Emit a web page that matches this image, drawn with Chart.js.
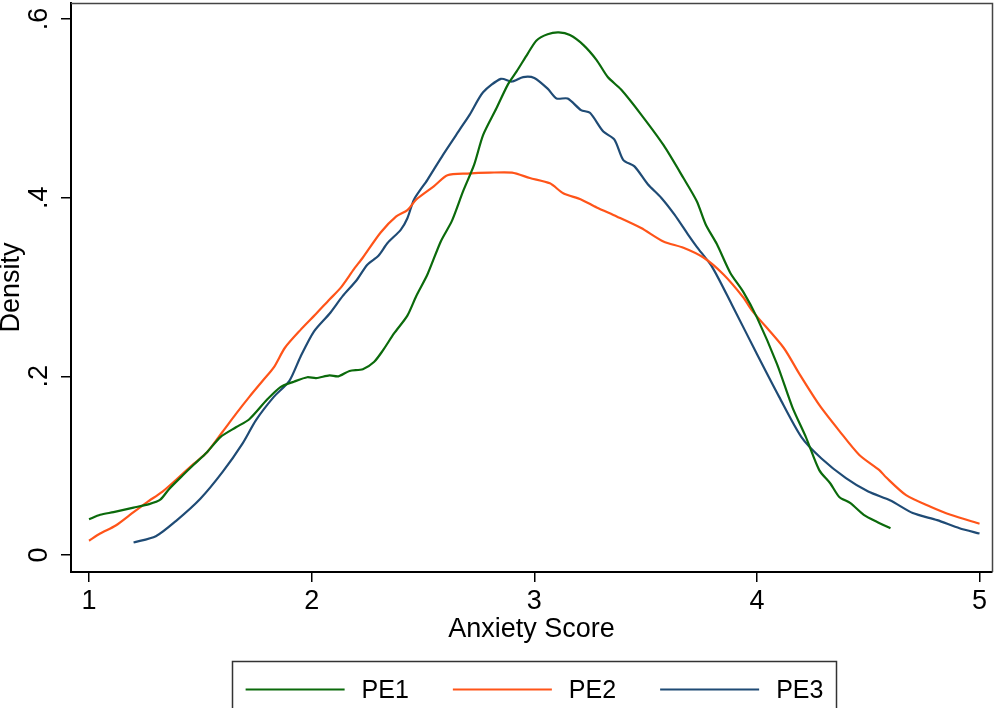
<!DOCTYPE html>
<html>
<head>
<meta charset="utf-8">
<script src="https://cdn.jsdelivr.net/npm/chart.js@4"></script>
<style>
  html, body { margin: 0; padding: 0; background: #ffffff; }
  #wrap { position: relative; width: 995px; height: 708px; }
</style>
</head>
<body>
<div id="wrap"><canvas id="c"></canvas></div>
<script>
// ---- data ----
const seriesLabels = ['PE1', 'PE2', 'PE3'];

const pe1X = [1.00,1.05,1.11,1.20,1.27,1.32,1.36,1.42,1.47,1.53,1.59,1.66,1.72,1.80,1.86,1.92,1.98,2.02,2.08,2.12,2.17,2.23,2.28,2.32,2.37,2.43,2.47,2.52,2.58,2.63,2.68,2.73,2.77,2.83,2.88,2.92,2.97,3.01,3.06,3.11,3.16,3.22,3.28,3.33,3.39,3.48,3.58,3.67,3.73,3.77,3.82,3.88,3.94,4.00,4.09,4.16,4.22,4.28,4.33,4.37,4.42,4.48,4.54,4.60];
const pe1Y = [0.040,0.045,0.048,0.053,0.057,0.062,0.074,0.089,0.101,0.115,0.132,0.143,0.152,0.174,0.188,0.194,0.199,0.198,0.201,0.200,0.206,0.208,0.216,0.229,0.248,0.268,0.290,0.314,0.351,0.374,0.407,0.437,0.470,0.500,0.526,0.541,0.561,0.576,0.583,0.585,0.582,0.571,0.554,0.535,0.521,0.493,0.459,0.422,0.396,0.370,0.348,0.316,0.294,0.266,0.214,0.165,0.132,0.095,0.080,0.065,0.058,0.045,0.037,0.030];

const pe2X = [1.00,1.05,1.12,1.20,1.26,1.33,1.39,1.47,1.53,1.60,1.66,1.72,1.78,1.83,1.88,1.95,2.02,2.08,2.13,2.19,2.23,2.31,2.38,2.43,2.47,2.55,2.61,2.70,2.80,2.90,2.98,3.07,3.13,3.21,3.28,3.37,3.48,3.58,3.67,3.76,3.85,3.94,3.98,4.12,4.19,4.28,4.37,4.46,4.55,4.58,4.67,4.78,4.87,5.00];
const pe2Y = [0.016,0.024,0.033,0.048,0.059,0.071,0.084,0.102,0.115,0.138,0.158,0.177,0.195,0.210,0.232,0.252,0.270,0.286,0.299,0.320,0.333,0.361,0.379,0.386,0.398,0.413,0.425,0.427,0.428,0.428,0.422,0.416,0.405,0.398,0.389,0.379,0.366,0.351,0.344,0.333,0.314,0.288,0.273,0.232,0.203,0.168,0.139,0.112,0.095,0.087,0.067,0.054,0.045,0.035];

const pe3X = [1.20,1.30,1.39,1.50,1.60,1.69,1.75,1.83,1.90,1.95,2.01,2.08,2.14,2.20,2.25,2.30,2.34,2.40,2.43,2.46,2.52,2.59,2.67,2.71,2.77,2.85,2.90,2.95,3.00,3.06,3.10,3.15,3.21,3.25,3.31,3.36,3.40,3.45,3.51,3.57,3.63,3.69,3.73,3.80,3.89,4.00,4.10,4.20,4.29,4.40,4.50,4.60,4.70,4.81,4.91,5.00];
const pe3Y = [0.014,0.021,0.038,0.063,0.093,0.125,0.151,0.177,0.195,0.222,0.250,0.270,0.290,0.307,0.325,0.335,0.349,0.364,0.377,0.398,0.420,0.448,0.478,0.493,0.518,0.533,0.530,0.535,0.534,0.522,0.511,0.511,0.498,0.495,0.474,0.465,0.442,0.435,0.415,0.400,0.381,0.359,0.345,0.322,0.279,0.225,0.177,0.132,0.108,0.086,0.071,0.061,0.047,0.039,0.030,0.024];

const xTickValues = [1, 2, 3, 4, 5];
const xTickLabels = ['1', '2', '3', '4', '5'];
const yTickValues = [0, 0.2, 0.4, 0.6];
const yTickLabels = ['0', '.2', '.4', '.6'];

const xTitle = 'Anxiety Score';
const yTitle = 'Density';

// ---- styling ----
const colors = ['#0b6a0b', '#ff5419', '#1f4b75'];
const FONT = '"Liberation Sans", Arial, Helvetica, sans-serif';

function pts(xs, ys) { return xs.map((x, i) => ({ x: x, y: ys[i] })); }

const datasets = [[pe1X, pe1Y], [pe2X, pe2Y], [pe3X, pe3Y]].map((s, i) => ({
  label: seriesLabels[i],
  data: pts(s[0], s[1]),
  borderColor: colors[i],
  backgroundColor: colors[i],
  borderWidth: 2.2,
  pointRadius: 0,
  tension: 0.25,
  fill: false
}));

const framePlugin = {
  id: 'frame',
  beforeDatasetsDraw(chart) {
    const { ctx, chartArea: a } = chart;
    ctx.save();
    ctx.strokeStyle = '#444';
    ctx.lineWidth = 1.5;
    ctx.beginPath();
    ctx.moveTo(a.left, a.top + 0.5);
    ctx.lineTo(a.right + 0.5, a.top + 0.5);
    ctx.lineTo(a.right + 0.5, a.bottom);
    ctx.stroke();
    ctx.restore();
  }
};

const boxLegendPlugin = {
  id: 'boxLegend',
  afterDraw(chart) {
    const ctx = chart.ctx;
    const ds = chart.data.datasets;
    const boxLeft = 232.5, boxRight = 836.5, boxTop = 661.5, boxBottom = 720;
    const lineLen = 99, gapText = 17, gapItem = 44;
    ctx.save();
    ctx.font = '25px ' + FONT;
    const widths = ds.map(d => ctx.measureText(d.label).width);
    const total = widths.reduce((s, w) => s + lineLen + gapText + w, 0) + gapItem * (ds.length - 1);
    let x = (boxLeft + boxRight) / 2 - total / 2;
    const y = 689.5;
    ctx.strokeStyle = '#333';
    ctx.lineWidth = 1.5;
    ctx.strokeRect(boxLeft, boxTop, boxRight - boxLeft, boxBottom - boxTop);
    ds.forEach((d, i) => {
      ctx.strokeStyle = d.borderColor;
      ctx.lineWidth = 2.2;
      ctx.beginPath();
      ctx.moveTo(x, y);
      ctx.lineTo(x + lineLen, y);
      ctx.stroke();
      ctx.fillStyle = '#000';
      ctx.textBaseline = 'middle';
      ctx.textAlign = 'left';
      ctx.fillText(d.label, x + lineLen + gapText, y + 1.5);
      x += lineLen + gapText + widths[i] + gapItem;
    });
    ctx.restore();
  }
};

function zeroPad(scale) {
  scale.paddingLeft = 0;
  scale.paddingRight = 0;
  scale.paddingTop = 0;
  scale.paddingBottom = 0;
}

new Chart(document.getElementById('c'), {
  type: 'line',
  data: { datasets: datasets },
  plugins: [framePlugin, boxLegendPlugin],
  options: {
    responsive: true,
    maintainAspectRatio: false,
    devicePixelRatio: 1,
    animation: false,
    layout: { padding: { left: 0, right: 3, top: 3, bottom: 0 } },
    plugins: {
      legend: { display: false },
      tooltip: { enabled: false },
      title: { display: false }
    },
    scales: {
      x: {
        type: 'linear',
        min: 0.919,
        max: 5.056,
        afterFit(scale) { scale.height = 136; zeroPad(scale); },
        afterBuildTicks(scale) { scale.ticks = xTickValues.map(v => ({ value: v })); },
        grid: { display: true, drawOnChartArea: false, drawTicks: true, tickLength: 10, color: '#000', lineWidth: 1.5 },
        border: { display: true, color: '#000', width: 2 },
        ticks: {
          color: '#000',
          padding: 3,
          font: { family: FONT, size: 27, lineHeight: 1.2 },
          maxRotation: 0,
          autoSkip: false,
          callback(v) { const i = xTickValues.indexOf(v); return i >= 0 ? xTickLabels[i] : ''; }
        },
        title: {
          display: true,
          text: xTitle,
          color: '#000',
          font: { family: FONT, size: 27, lineHeight: 1.2 },
          padding: { top: 0, bottom: 62 }
        }
      },
      y: {
        type: 'linear',
        min: -0.01903,
        max: 0.6179,
        afterFit(scale) { scale.width = 71; zeroPad(scale); },
        afterBuildTicks(scale) { scale.ticks = yTickValues.map(v => ({ value: v })); },
        grid: { display: true, drawOnChartArea: false, drawTicks: true, tickLength: 10, color: '#000', lineWidth: 1.5 },
        border: { display: true, color: '#000', width: 2 },
        ticks: {
          color: '#000',
          padding: 10,
          crossAlign: 'center',
          minRotation: 90,
          maxRotation: 90,
          autoSkip: false,
          font: { family: FONT, size: 27, lineHeight: 1.2 },
          callback(v) { const i = yTickValues.findIndex(t => Math.abs(t - v) < 1e-9); return i >= 0 ? yTickLabels[i] : ''; }
        },
        title: {
          display: true,
          text: yTitle,
          color: '#000',
          font: { family: FONT, size: 27, lineHeight: 0.84 },
          padding: { top: 0, bottom: 0 }
        }
      }
    }
  }
});
</script>
</body>
</html>
